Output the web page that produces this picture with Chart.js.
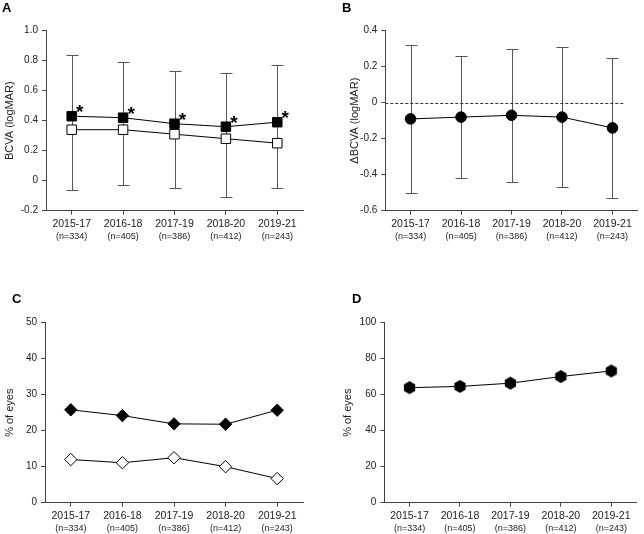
<!DOCTYPE html>
<html>
<head>
<meta charset="utf-8">
<script src="https://cdn.jsdelivr.net/npm/chart.js@4.4.1/dist/chart.umd.min.js"></script>
<style>
  body { margin: 0; background: #fff; }
  #wrap { position: relative; width: 644px; height: 534px; }
  canvas { position: absolute; }
  .lbl { position: absolute; font: bold 13px/13px "Liberation Sans", Arial, sans-serif; color: #000; }
</style>
</head>
<body>
<div id="wrap">
  <canvas id="cA" width="322" height="267" style="left:0;top:0;width:322px;height:267px"></canvas>
  <canvas id="cB" width="322" height="267" style="left:322px;top:0;width:322px;height:267px"></canvas>
  <canvas id="cC" width="322" height="264" style="left:0;top:270px;width:322px;height:264px"></canvas>
  <canvas id="cD" width="322" height="264" style="left:322px;top:270px;width:322px;height:264px"></canvas>
  <div class="lbl" style="left:2px;top:1px">A</div>
  <div class="lbl" style="left:342px;top:1px">B</div>
  <div class="lbl" style="left:12px;top:292px">C</div>
  <div class="lbl" style="left:352px;top:292px">D</div>
</div>
<script>
// data
var periods = ["2015-17", "2016-18", "2017-19", "2018-20", "2019-21"];
var nEyes = [334, 405, 386, 412, 243];

// A: BCVA
var bcvaFilled = [0.43, 0.42, 0.38, 0.36, 0.39];
var bcvaOpen = [0.34, 0.34, 0.31, 0.28, 0.25];
var bcvaUpper = [0.84, 0.79, 0.73, 0.72, 0.77];
var bcvaLower = [-0.06, -0.03, -0.05, -0.11, -0.05];

// B: change in BCVA
var dBcva = [-0.09, -0.08, -0.07, -0.08, -0.14];
var dUpper = [0.32, 0.26, 0.30, 0.31, 0.25];
var dLower = [-0.50, -0.42, -0.44, -0.47, -0.53];

// C and D: % of eyes
var pctFilled = [25.8, 24.2, 21.9, 21.8, 25.7];
var pctOpen = [12.0, 11.1, 12.5, 10.0, 6.7];
var pctD = [63.9, 64.6, 66.4, 70.1, 73.2];

var FONT = "'Liberation Sans', Arial, sans-serif";
var AXIS = "#444";
var TXT = "#222";

// hexagon marker for D
function hexagon(r) {
  var s = Math.ceil(r * 2 + 2);
  var c = document.createElement("canvas");
  c.width = s; c.height = s;
  var g = c.getContext("2d");
  g.beginPath();
  for (var k = 0; k < 6; k++) {
    var a = -Math.PI / 2 + k * Math.PI / 3;
    var px = s / 2 + r * Math.cos(a), py = s / 2 + r * Math.sin(a);
    if (k === 0) g.moveTo(px, py); else g.lineTo(px, py);
  }
  g.closePath();
  g.fillStyle = "#000";
  g.fill();
  return c;
}

var errorBars = {
  id: "errorBars",
  beforeDatasetsDraw: function (chart, args, opts) {
    if (!opts || !opts.upper) return;
    var ctx = chart.ctx, xs = chart.scales.x, ys = chart.scales.y;
    ctx.save();
    ctx.strokeStyle = "#555";
    ctx.lineWidth = 1;
    for (var i = 0; i < opts.upper.length; i++) {
      var px = Math.round(xs.getPixelForValue(i)) + 0.5;
      var pu = Math.round(ys.getPixelForValue(opts.upper[i])) + 0.5;
      var pl = Math.round(ys.getPixelForValue(opts.lower[i])) + 0.5;
      ctx.beginPath();
      ctx.moveTo(px, pu); ctx.lineTo(px, pl);
      ctx.moveTo(px - 6, pu); ctx.lineTo(px + 6, pu);
      ctx.moveTo(px - 6, pl); ctx.lineTo(px + 6, pl);
      ctx.stroke();
    }
    ctx.restore();
  }
};

var zeroLine = {
  id: "zeroLine",
  beforeDatasetsDraw: function (chart, args, opts) {
    if (!opts || !opts.show) return;
    var ctx = chart.ctx, a = chart.chartArea;
    var py = Math.round(chart.scales.y.getPixelForValue(0)) + 0.5;
    ctx.save();
    ctx.strokeStyle = "#333";
    ctx.lineWidth = 1;
    ctx.setLineDash([3, 2]);
    ctx.beginPath();
    ctx.moveTo(a.left, py);
    ctx.lineTo(a.right - 13, py);
    ctx.stroke();
    ctx.restore();
  }
};

var stars = {
  id: "stars",
  afterDatasetsDraw: function (chart, args, opts) {
    if (!opts || !opts.show) return;
    var ctx = chart.ctx;
    ctx.save();
    ctx.fillStyle = "#000";
    ctx.font = "bold 19px " + FONT;
    ctx.textAlign = "center";
    ctx.textBaseline = "alphabetic";
    chart.getDatasetMeta(0).data.forEach(function (pt) {
      ctx.fillText("*", pt.x + 8, pt.y + 2);
    });
    ctx.restore();
  }
};

var nLabels = {
  id: "nLabels",
  afterDraw: function (chart) {
    var ctx = chart.ctx, xs = chart.scales.x;
    ctx.save();
    ctx.fillStyle = TXT;
    ctx.font = "9px " + FONT;
    ctx.textAlign = "center";
    ctx.textBaseline = "middle";
    for (var i = 0; i < nEyes.length; i++) {
      ctx.fillText("(n=" + nEyes[i] + ")", xs.getPixelForValue(i), chart.chartArea.bottom + 25.5);
    }
    ctx.restore();
  }
};

function decimalTick(v) {
  return Math.abs(v) < 1e-9 ? "0" : v.toFixed(1);
}

function makeChart(id, p) {
  var el = document.getElementById(id);
  return new Chart(el, {
    type: "line",
    data: { labels: periods, datasets: p.datasets },
    plugins: [errorBars, zeroLine, stars, nLabels],
    options: {
      responsive: false,
      animation: false,
      layout: { padding: { left: 0, top: p.top, right: p.right, bottom: 0 } },
      plugins: {
        legend: { display: false },
        tooltip: { enabled: false },
        errorBars: p.err || {},
        zeroLine: { show: !!p.zero },
        stars: { show: !!p.stars }
      },
      scales: {
        x: {
          type: "category",
          offset: true,
          grid: { drawOnChartArea: false, drawTicks: true, tickLength: 4, color: AXIS },
          border: { color: AXIS },
          ticks: { font: { size: 10.5, family: FONT }, color: TXT, maxRotation: 0, autoSkip: false, padding: 3 },
          afterFit: function (s) { s.height = el.height - p.top - 180; }
        },
        y: {
          min: p.min,
          max: p.max,
          ticks: { stepSize: p.step, callback: p.fmt, font: { size: 10, family: FONT }, color: TXT, padding: 4 },
          grid: { drawOnChartArea: false, drawTicks: true, tickLength: 4, color: AXIS },
          border: { color: AXIS },
          title: { display: true, text: p.title, font: { size: 11, family: FONT }, color: TXT, padding: p.tpad },
          afterFit: function (s) { s.width = p.left; }
        }
      }
    }
  });
}

function pts(data, style, r, fill) {
  return {
    data: data, borderColor: "#000", borderWidth: 1, tension: 0, fill: false,
    pointStyle: style, pointRadius: r, pointHoverRadius: r,
    pointBackgroundColor: fill, pointBorderColor: "#000", pointBorderWidth: 1
  };
}

makeChart("cA", {
  left: 46, top: 30.7, right: 19,
  min: -0.2, max: 1.0, step: 0.2, fmt: decimalTick,
  title: "BCVA (logMAR)", tpad: 3.4,
  err: { upper: bcvaUpper, lower: bcvaLower },
  stars: true,
  datasets: [pts(bcvaFilled, "rect", 6.7, "#000"), pts(bcvaOpen, "rect", 6.7, "#fff")]
});

makeChart("cB", {
  left: 63.3, top: 30.7, right: 1,
  min: -0.6, max: 0.4, step: 0.2, fmt: decimalTick,
  title: "\u0394BCVA (logMAR)", tpad: 26,
  err: { upper: dUpper, lower: dLower },
  zero: true,
  datasets: [pts(dBcva, "circle", 5.3, "#000")]
});

makeChart("cC", {
  left: 45, top: 52.7, right: 19,
  min: 0, max: 50, step: 10,
  title: "% of eyes", tpad: 3.4,
  datasets: [pts(pctFilled, "rectRot", 6.2, "#000"), pts(pctOpen, "rectRot", 6.2, "#fff")]
});

makeChart("cD", {
  left: 62.3, top: 52.7, right: 2,
  min: 0, max: 100, step: 20,
  title: "% of eyes", tpad: 19.4,
  datasets: [pts(pctD, hexagon(6.5), 6.5, "#000")]
});
</script>
</body>
</html>
